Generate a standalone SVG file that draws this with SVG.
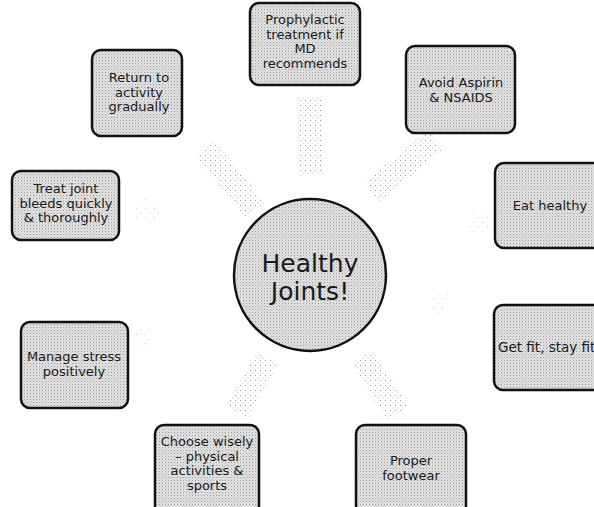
<svg xmlns="http://www.w3.org/2000/svg" width="594" height="507" viewBox="0 0 594 507">
<defs>
<pattern id="dots" width="5" height="5" patternUnits="userSpaceOnUse">
<rect x="0" y="0" width="1" height="1" fill="#959595"/>
<rect x="2.5" y="2.5" width="1" height="1" fill="#bababa"/>
</pattern>
<pattern id="sparse" width="9" height="9" patternUnits="userSpaceOnUse">
<rect x="1" y="1" width="1" height="1" fill="#9a9a9a"/>
<rect x="5" y="6" width="1" height="1" fill="#bdbdbd"/>
</pattern>
<pattern id="half" width="3" height="3" patternUnits="userSpaceOnUse">
<rect width="3" height="3" fill="#e2e2e2"/>
<rect x="0" y="0" width="1" height="1" fill="#9c9c9c"/>
<rect x="1.5" y="1.5" width="1" height="1" fill="#bcbcbc"/>
</pattern>
</defs>
<style>
.box{fill:url(#half);stroke:#111;stroke-width:2.5}
.t{font-family:"DejaVu Sans",Verdana,sans-serif;font-size:13px;fill:#1a1a1a;text-anchor:middle}
.big{font-family:"DejaVu Sans",Verdana,sans-serif;font-size:25px;fill:#1a1a1a;text-anchor:middle}
.c{stroke:url(#dots);stroke-width:24;fill:none}
.cf{stroke:url(#sparse);stroke-width:22;fill:none;opacity:0.6}
</style>
<g id="connectors">
<line class="c" x1="309" y1="97" x2="311" y2="175"/>
<line class="c" x1="205" y1="148" x2="255" y2="210"/>
<line class="c" x1="435" y1="140" x2="372" y2="192"/>
<line class="c" x1="268" y1="358" x2="236" y2="412"/>
<line class="c" x1="362" y1="357" x2="398" y2="413"/>
<line class="cf" x1="135" y1="208" x2="160" y2="214"/>
<line class="cf" x1="470" y1="222" x2="488" y2="226"/>
<line class="cf" x1="138" y1="342" x2="152" y2="338"/>
<line class="cf" x1="430" y1="300" x2="446" y2="305"/>
</g>
<g id="center">
<circle cx="310" cy="275" r="76" fill="url(#half)" stroke="#111" stroke-width="2.5"/>
<text class="big" x="310" y="272">Healthy</text>
<text class="big" x="310" y="300">Joints!</text>
</g>
<g id="prophylactic">
<rect class="box" x="250" y="3" width="110" height="82" rx="9"/>
<text class="t" x="305" y="24">Prophylactic</text>
<text class="t" x="305" y="38.5">treatment if</text>
<text class="t" x="305" y="53">MD</text>
<text class="t" x="305" y="67.5">recommends</text>
</g>
<g id="return">
<rect class="box" x="92" y="50" width="90" height="86" rx="9"/>
<text class="t" x="139" y="82">Return to</text>
<text class="t" x="139" y="96.5">activity</text>
<text class="t" x="139" y="111">gradually</text>
</g>
<g id="avoid">
<rect class="box" x="406" y="46" width="109" height="87" rx="9"/>
<text class="t" x="461" y="87">Avoid Aspirin</text>
<text class="t" x="461" y="101.5">&amp; NSAIDS</text>
</g>
<g id="eat">
<rect class="box" x="495" y="163" width="115" height="85" rx="9"/>
<text class="t" x="550" y="210">Eat healthy</text>
</g>
<g id="getfit">
<rect class="box" x="494" y="305" width="115" height="85" rx="9"/>
<text class="t" x="498" y="352" style="text-anchor:start;font-size:13.5px">Get fit, stay fit</text>
</g>
<g id="treat">
<rect class="box" x="12" y="171" width="107" height="69" rx="9"/>
<text class="t" x="66" y="193">Treat joint</text>
<text class="t" x="66" y="207.5">bleeds quickly</text>
<text class="t" x="66" y="222">&amp; thoroughly</text>
</g>
<g id="stress">
<rect class="box" x="21" y="322" width="107" height="86" rx="9"/>
<text class="t" x="74" y="361">Manage stress</text>
<text class="t" x="74" y="375.5">positively</text>
</g>
<g id="choose">
<rect class="box" x="155" y="425" width="104" height="90" rx="9"/>
<text class="t" x="207" y="446">Choose wisely</text>
<text class="t" x="207" y="460.5">– physical</text>
<text class="t" x="207" y="475">activities &amp;</text>
<text class="t" x="207" y="489.5">sports</text>
</g>
<g id="footwear">
<rect class="box" x="356" y="425" width="110" height="90" rx="9"/>
<text class="t" x="411" y="465">Proper</text>
<text class="t" x="411" y="479.5">footwear</text>
</g>
</svg>
